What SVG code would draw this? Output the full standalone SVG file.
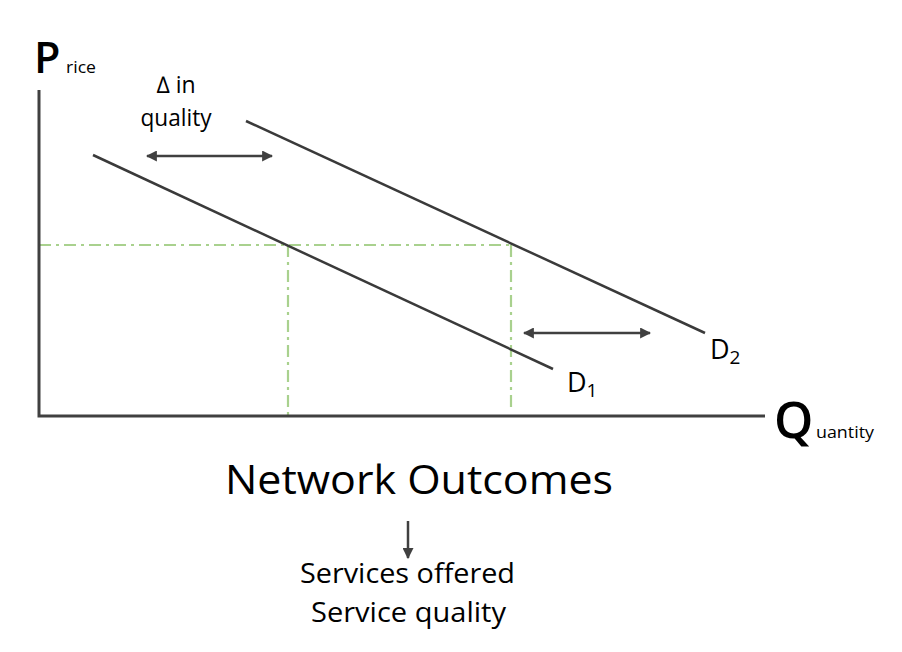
<svg xmlns="http://www.w3.org/2000/svg" width="902" height="652" viewBox="0 0 902 652">
<defs>
<style>
.ax{stroke:#404040;stroke-width:3;fill:none}
.dl{stroke:#3a3a3a;stroke-width:2.5;fill:none}
.gr{stroke:#a9d18e;stroke-width:2.2;fill:none;stroke-dasharray:12 5 3 5}
.ar{stroke:#404040;stroke-width:2.5;fill:none}
text{font-family:"Open Sans","Noto Sans","Liberation Sans",sans-serif;fill:#000}
.big{font-weight:600}
</style>
<marker id="ah" viewBox="0 0 10 10" refX="9" refY="5" markerWidth="4.4" markerHeight="4.4" orient="auto-start-reverse" markerUnits="strokeWidth">
<path d="M0,0 L10,5 L0,10 z" fill="#404040"/>
</marker>
</defs>
<rect width="902" height="652" fill="#fff"/>
<g id="connectors">
<line class="gr" x1="39" y1="245" x2="511" y2="245"/>
<line class="gr" x1="288" y1="245" x2="288" y2="416"/>
<line class="gr" x1="511" y1="245" x2="511" y2="408"/>
<line class="ar" x1="147" y1="156" x2="272" y2="156" marker-start="url(#ah)" marker-end="url(#ah)"/>
<line class="ar" x1="524" y1="333" x2="650" y2="333" marker-start="url(#ah)" marker-end="url(#ah)"/>
<line class="ar" x1="408" y1="521" x2="408" y2="558" marker-end="url(#ah)"/>
</g>
<g id="axes">
<polyline class="ax" points="39,90 39,416 765,416"/>
</g>
<g id="price-label">
<text class="big" x="34" y="73" font-size="43">P</text>
<text x="66" y="73" font-size="17" textLength="30" lengthAdjust="spacingAndGlyphs">rice</text>
</g>
<g id="quantity-label">
<text class="big" x="774" y="438" font-size="50">Q</text>
<text x="816" y="438" font-size="17" textLength="58" lengthAdjust="spacingAndGlyphs">uantity</text>
</g>
<g id="D1">
<line class="dl" x1="93" y1="155" x2="553" y2="369"/>
<text x="567" y="392" font-size="27">D<tspan font-size="19" dy="5">1</tspan></text>
</g>
<g id="D2">
<line class="dl" x1="246" y1="121" x2="705" y2="333"/>
<text x="710" y="359" font-size="27">D<tspan font-size="19" dy="5">2</tspan></text>
</g>
<g id="quality-label">
<text x="176" y="93" font-size="23" text-anchor="middle">∆ in</text>
<text x="176" y="126" font-size="23" text-anchor="middle" textLength="71" lengthAdjust="spacingAndGlyphs">quality</text>
</g>
<g id="network-outcomes">
<text x="225" y="494" font-size="41" textLength="388" lengthAdjust="spacingAndGlyphs">Network Outcomes</text>
</g>
<g id="services">
<text x="300" y="583" font-size="27" textLength="215" lengthAdjust="spacingAndGlyphs">Services offered</text>
<text x="311" y="622" font-size="27" textLength="195" lengthAdjust="spacingAndGlyphs">Service quality</text>
</g>
</svg>
